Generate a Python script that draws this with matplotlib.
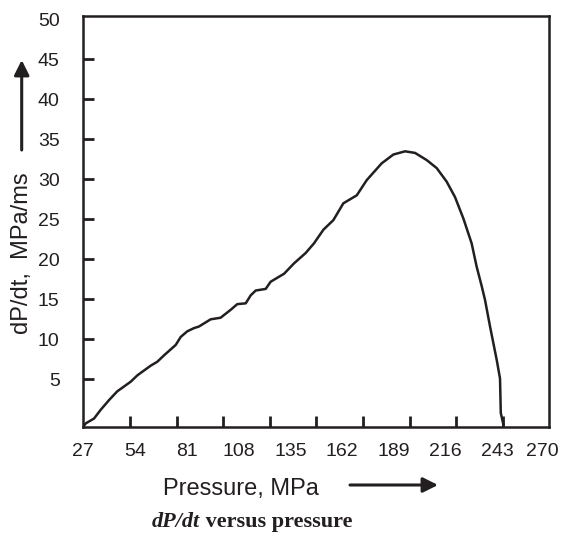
import matplotlib
matplotlib.use("Agg")
import matplotlib.pyplot as plt
from matplotlib.patches import FancyArrowPatch
from matplotlib.transforms import ScaledTranslation

# pressure (MPa) and dP/dt (MPa/ms)
pressure = [27.0, 28.3, 32.6, 36.1, 40.4, 44.7, 51.7, 55.2, 62.1, 65.6, 69.1,
            75.2, 77.8, 81.2, 84.7, 87.3, 93.4, 98.6, 103.9, 107.3, 111.7,
            114.3, 116.9, 122.1, 124.7, 131.7, 136.9, 143.0, 147.3, 152.2,
            157.4, 162.6, 169.6, 174.8, 182.6, 188.7, 194.8, 200.0, 206.1,
            211.3, 216.5, 220.8, 225.2, 229.5, 232.1, 234.8, 236.5, 239.1,
            242.6, 244.3, 244.7, 246.1]
dpdt = [-0.9, -0.5, 0.1, 1.2, 2.4, 3.5, 4.7, 5.5, 6.7, 7.2, 8.0,
        9.3, 10.3, 11.0, 11.4, 11.6, 12.5, 12.7, 13.7, 14.4, 14.5,
        15.5, 16.1, 16.3, 17.2, 18.2, 19.5, 20.8, 22.0, 23.7,
        24.9, 27.0, 28.0, 29.9, 32.0, 33.1, 33.5, 33.3, 32.4,
        31.4, 29.7, 27.8, 25.1, 22.0, 19.1, 16.6, 14.9, 11.6,
        7.4, 5.1, 0.8, -0.7]

x_ticks = [27, 54, 81, 108, 135, 162, 189, 216, 243, 270]
y_ticks = [5, 10, 15, 20, 25, 30, 35, 40, 45, 50]

INK = "#231f20"
SANS = ["Liberation Sans", "DejaVu Sans"]
SERIF = ["Liberation Serif", "DejaVu Serif"]

W, H = 564, 534
fig = plt.figure(figsize=(W / 100, H / 100), dpi=100)
ax = fig.add_axes([83.3 / W, 1 - 426.7 / H, 466 / W, 411 / H])

ax.plot(pressure, dpdt, color=INK, lw=1.8, solid_joinstyle="round",
        solid_capstyle="round")

ax.set_xlim(27, 270)
ax.set_ylim(-0.92, 50.45)

# labels sit on an even grid, tick marks on a slightly tighter one
ax.set_xticks(x_ticks)
ax.set_xticks([27 + 24.3 * k for k in range(1, 10)], minor=True)
ax.set_yticks(y_ticks)
ax.tick_params(axis="x", which="major", length=0, pad=12, labelsize=14,
               labelcolor=INK)
ax.tick_params(axis="x", which="minor", direction="in", length=8, width=2,
               color=INK)
ax.tick_params(axis="y", direction="in", length=8, width=2, color=INK,
               pad=17, labelsize=14, labelcolor=INK)
ax.yaxis.get_major_ticks()[-1].tick1line.set_visible(False)
for lbl in ax.get_xticklabels() + ax.get_yticklabels():
    lbl.set_fontfamily(SANS)
# last label is pulled in a little, as in the original
last = ax.xaxis.get_major_ticks()[-1].label1
last.set_transform(last.get_transform()
                   + ScaledTranslation(-0.07, 0, fig.dpi_scale_trans))

for sp in ax.spines.values():
    sp.set_color(INK)
    sp.set_linewidth(1.8)

# axis titles with arrows
fig.text(22 / W, 1 - 253 / H, "dP/dt,  MPa/ms", rotation=90, ha="center",
         va="center", fontsize=17, family=SANS, color=INK)
fig.text(163 / W, 1 - 495 / H, "Pressure, MPa", ha="left", va="baseline",
         fontsize=17, family=SANS, color=INK)

arrow = dict(arrowstyle="-|>,head_length=0.6,head_width=0.3",
             mutation_scale=15, lw=2.2, color=INK, shrinkA=0, shrinkB=0)
fig.add_artist(FancyArrowPatch((21.7 / W, 1 - 150 / H), (21.7 / W, 1 - 60 / H),
                               transform=fig.transFigure, **arrow))
fig.add_artist(FancyArrowPatch((350 / W, 1 - 485 / H), (438 / W, 1 - 485 / H),
                               transform=fig.transFigure, **arrow))

# caption
cap = fig.text(152 / W, 1 - 527 / H, "dP/dt", ha="left", va="baseline",
               fontsize=16, family=SERIF, weight="bold", style="italic",
               color=INK)
fig.canvas.draw()
ax.annotate(" versus pressure", xy=(1, 0), xycoords=cap, ha="left",
            va="bottom", fontsize=16, family=SERIF, weight="bold",
            color=INK, annotation_clip=False)

fig.savefig("out.png", dpi=100)
